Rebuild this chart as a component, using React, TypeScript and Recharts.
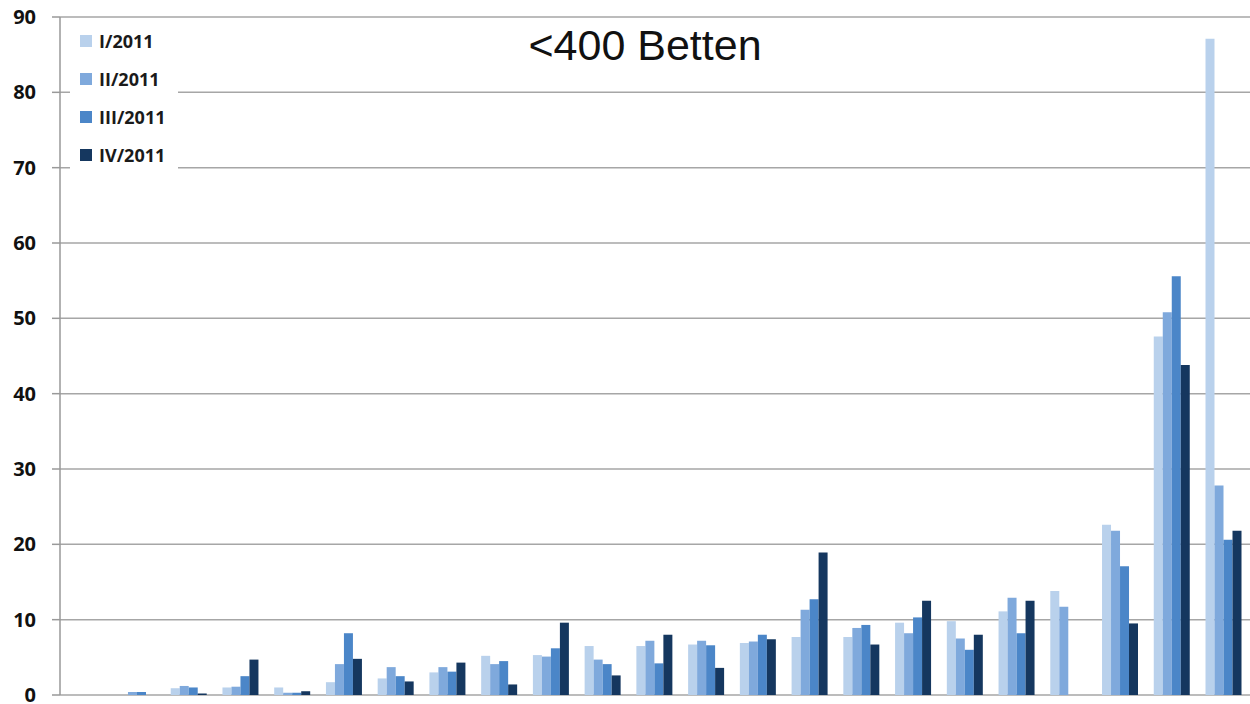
import React from 'react';
import {
  BarChart,
  Bar,
  XAxis,
  YAxis,
  CartesianGrid,
} from 'recharts';

// 23 unnamed groups along the x axis
const groups = Array.from({ length: 23 }, (_, i) => `G${i + 1}`);

const q1 = [0, 0, 0.9, 1.0, 1.0, 1.7, 2.2, 3.0, 5.2, 5.3, 6.5, 6.5, 6.7, 6.9, 7.7, 7.7, 9.6, 9.8, 11.1, 13.8, 22.6, 47.6, 87.1];
const q2 = [0, 0.4, 1.2, 1.1, 0.3, 4.1, 3.7, 3.7, 4.1, 5.1, 4.7, 7.2, 7.2, 7.1, 11.3, 8.9, 8.2, 7.5, 12.9, 11.7, 21.8, 50.8, 27.8];
const q3 = [0, 0.4, 1.0, 2.5, 0.3, 8.2, 2.5, 3.1, 4.5, 6.2, 4.1, 4.2, 6.6, 8.0, 12.7, 9.3, 10.3, 6.0, 8.2, 0, 17.1, 55.6, 20.6];
const q4 = [0, 0, 0.2, 4.7, 0.5, 4.8, 1.8, 4.3, 1.4, 9.6, 2.6, 8.0, 3.6, 7.4, 18.9, 6.7, 12.5, 8.0, 12.5, 0, 9.5, 43.8, 21.8];

const yTicks = [0, 10, 20, 30, 40, 50, 60, 70, 80, 90];
const boundaryTicks = Array.from({ length: groups.length + 1 }, (_, i) => i);

const seriesList = [
  { key: 'q1', name: 'I/2011', color: '#b9d1ec' },
  { key: 'q2', name: 'II/2011', color: '#7fa9dc' },
  { key: 'q3', name: 'III/2011', color: '#4b86c8' },
  { key: 'q4', name: 'IV/2011', color: '#15375f' },
];

const data = groups.map((g, i) => ({
  name: g,
  pos: i + 0.5,
  q1: q1[i],
  q2: q2[i],
  q3: q3[i],
  q4: q4[i],
}));

const font = '"Open Sans", "Liberation Sans", Arial, sans-serif';

function LegendBox() {
  return (
    <div
      style={{
        position: 'absolute',
        left: 70,
        top: 22,
        width: 108,
        height: 154,
        background: '#fff',
        boxSizing: 'border-box',
      }}
    >
      {seriesList.map(s => (
        <div key={s.key} style={{ display: 'flex', alignItems: 'center', height: 38, paddingLeft: 10 }}>
          <span style={{ display: 'inline-block', width: 12, height: 12, background: s.color, marginRight: 7 }} />
          <span style={{ fontFamily: font, fontWeight: 700, fontSize: 18, color: '#1a1a1a' }}>{s.name}</span>
        </div>
      ))}
    </div>
  );
}

const EmptyTick = () => <g />;

export default function App() {
  return (
    <div style={{ position: 'absolute', left: 0, top: 0, width: 1250, height: 704, background: '#fff' }}>
      <BarChart
        width={1250}
        height={704}
        data={data}
        margin={{ top: 17, right: 0, bottom: 0, left: 0 }}
        barCategoryGap="14%"
        barGap={0}
      >
        <CartesianGrid vertical={false} stroke="#a6a6a6" strokeWidth={1.5} />
        <XAxis dataKey="name" xAxisId="cat" hide />
        <XAxis
          xAxisId="edge"
          dataKey="pos"
          type="number"
          domain={[0, groups.length]}
          ticks={boundaryTicks}
          interval={0}
          allowDataOverflow
          height={9}
          tick={EmptyTick}
          tickSize={7}
          tickLine={{ stroke: '#999', strokeWidth: 1.5 }}
          axisLine={{ stroke: '#999', strokeWidth: 1.5 }}
        />
        <YAxis
          domain={[0, 90]}
          ticks={yTicks}
          interval={0}
          width={60}
          tickSize={8}
          tickMargin={16}
          tick={{ fontFamily: font, fontWeight: 700, fontSize: 20, fill: '#111' }}
          tickLine={{ stroke: '#999', strokeWidth: 1.5 }}
          axisLine={{ stroke: '#999', strokeWidth: 1.5 }}
        />
        {seriesList.map(s => (
          <Bar key={s.key} xAxisId="cat" dataKey={s.key} name={s.name} fill={s.color} isAnimationActive={false} />
        ))}
      </BarChart>
      <LegendBox />
      <div
        style={{
          position: 'absolute',
          left: 0,
          width: 1290,
          top: 20,
          textAlign: 'center',
          fontFamily: '"Liberation Sans", Arial, sans-serif',
          fontSize: 43,
          color: '#111',
          lineHeight: '50px',
          pointerEvents: 'none',
        }}
      >
        &lt;400 Betten
      </div>
    </div>
  );
}
